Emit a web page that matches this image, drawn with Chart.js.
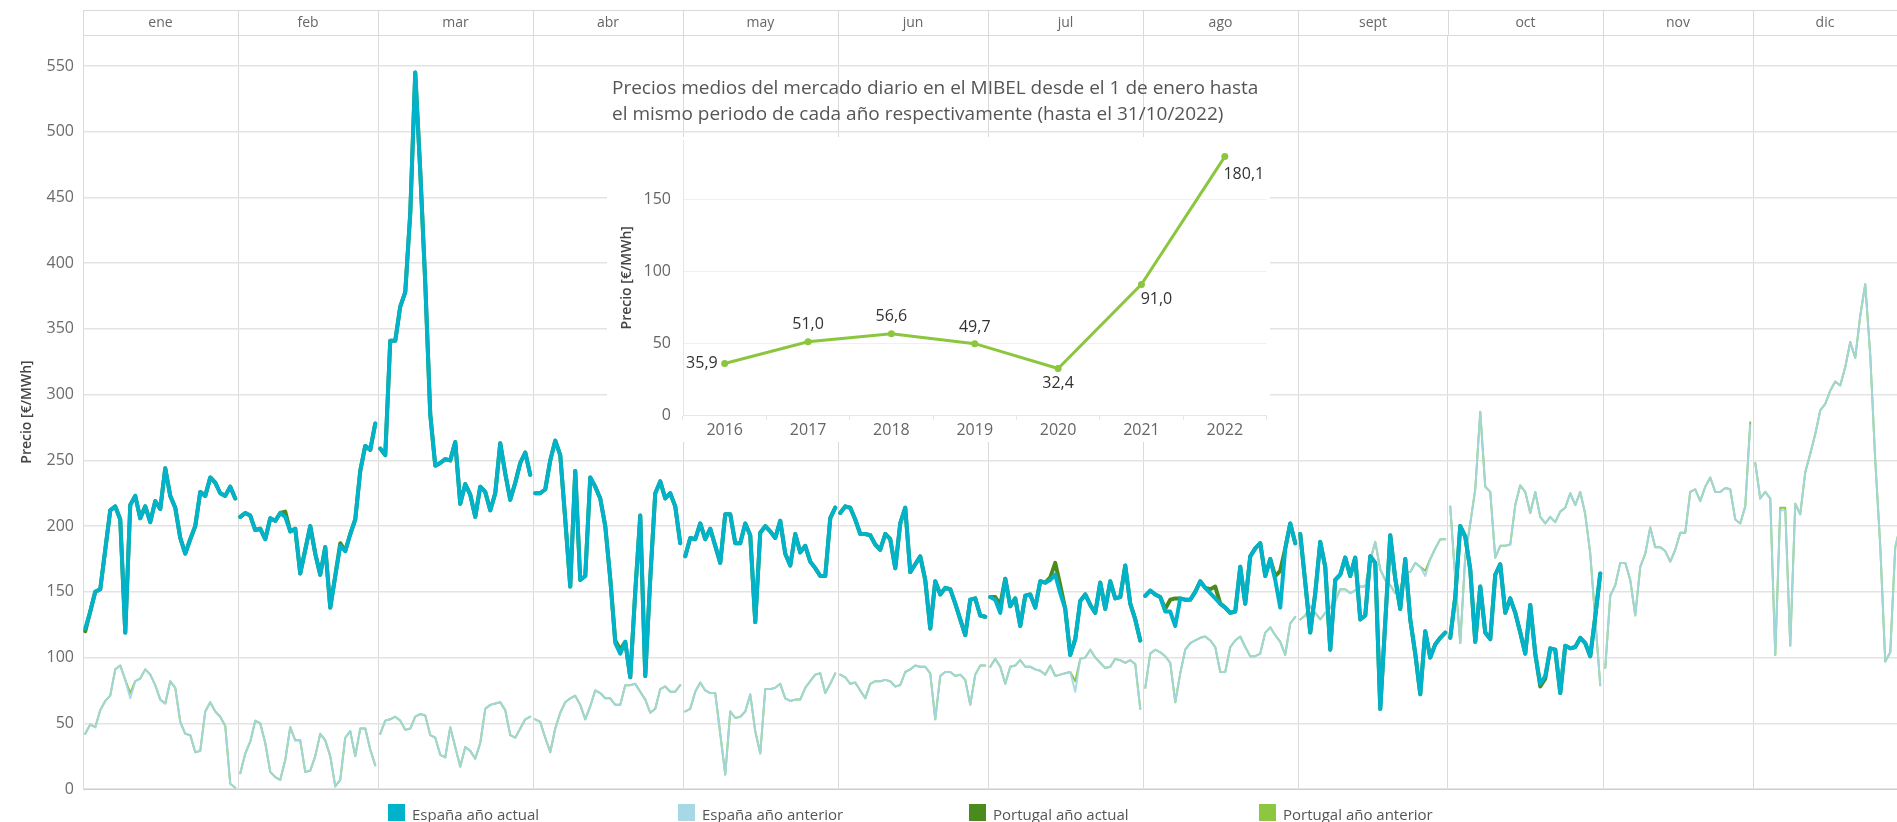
<!DOCTYPE html>
<html lang="es">
<head>
<meta charset="utf-8">
<title>Precios del mercado diario MIBEL</title>
<script src="https://cdn.jsdelivr.net/npm/chart.js@4.4.0/dist/chart.umd.min.js"></script>
<style>
  html, body { margin: 0; padding: 0; background: #fff; overflow: hidden; }
  body { width: 1897px; height: 822px; position: relative; font-family: 'Open Sans', sans-serif; }
  #main { position: absolute; left: 0; top: 0; width: 1897px; height: 822px; }
  #insetTitle { position: absolute; left: 612px; top: 74px; font-size: 19px; line-height: 26px; color: #555; white-space: nowrap; }
  #inset { position: absolute; left: 607px; top: 137px; width: 663px; height: 305px; background: #fff; }
  #legend { position: absolute; left: 0; top: 804px; width: 1897px; height: 18px; }
  .item { position: absolute; top: 0; font-size: 15px; line-height: 21px; color: #555; white-space: nowrap; }
  .sw { position: absolute; left: 0; top: 0; width: 17px; height: 17px; }
  .txt { margin-left: 24px; }
</style>
</head>
<body>
<div id="main"><canvas id="mainChart"></canvas></div>
<div id="insetTitle">Precios medios del mercado diario en el MIBEL desde el 1 de enero hasta<br>el mismo periodo de cada año respectivamente (hasta el 31/10/2022)</div>
<div id="inset"><canvas id="insetChart"></canvas></div>
<div id="legend"></div>
<script>
const months = ['ene', 'feb', 'mar', 'abr', 'may', 'jun', 'jul', 'ago', 'sept', 'oct', 'nov', 'dic'];
const monthDays = [31, 28, 31, 30, 31, 30, 31, 31, 30, 31, 30, 31];
const yTicks = [0, 50, 100, 150, 200, 250, 300, 350, 400, 450, 500, 550];

// precio medio diario, 1 ene - 31 oct 2022
const espana2022 = [
  122,135,150,152,182,212,215,205,119,216,223,206,215,203,219,213,244,223,214,191,179,190,200,226,223,237,233,225,223,230,221,
  207,210,208,197,198,190,206,204,210,207,196,198,164,182,200,179,163,184,138,162,185,181,194,205,242,261,258,278,
  259,254,341,341,367,378,438,545,470,385,285,246,248,251,250,264,217,232,224,207,230,226,212,225,263,240,220,233,248,256,239,
  225,225,228,250,265,254,205,154,242,159,162,237,230,221,200,160,111,103,112,85,150,208,86,160,225,234,221,225,215,187,
  177,191,190,202,190,198,185,172,209,209,187,187,202,193,127,195,200,196,191,204,179,170,194,180,185,173,168,162,162,206,214,
  210,215,214,205,194,194,193,186,182,194,190,168,202,214,165,171,177,159,122,158,148,153,152,141,129,117,144,145,132,131,
  146,144,134,160,139,145,124,147,148,138,158,157,159,163,149,137,102,114,143,148,140,134,157,137,158,145,146,170,141,129,113,
  147,151,148,146,135,135,124,145,144,144,150,158,153,149,145,141,138,134,135,169,141,177,183,187,162,175,159,138,183,202,187,
  194,157,119,149,188,169,106,159,163,176,162,176,129,132,177,172,61,127,193,160,137,175,129,103,72,120,100,110,115,119,
  115,146,200,192,167,112,154,119,114,163,171,134,145,134,119,103,140,103,80,86,107,106,73,109,107,108,115,111,101,131,164
];
const portugal2022 = [
  120,135,150,152,182,212,215,205,119,216,223,206,215,203,219,213,244,223,214,191,179,190,200,226,223,237,233,225,223,230,221,
  207,210,208,197,198,190,206,204,210,211,196,198,164,182,200,179,163,184,138,162,187,181,194,205,242,261,258,278,
  259,254,341,341,367,378,438,545,470,385,285,246,248,251,250,264,217,232,224,207,230,226,212,225,263,240,220,233,248,256,239,
  225,225,228,250,265,254,205,154,242,159,162,237,230,221,200,160,113,106,112,85,150,208,86,160,225,234,221,225,215,187,
  177,191,190,202,190,198,185,172,209,209,187,187,202,193,127,195,200,196,191,204,179,170,194,180,185,173,168,162,162,206,214,
  210,215,214,205,194,194,193,186,182,194,190,168,202,214,165,171,177,159,122,158,148,153,152,141,129,117,144,145,132,131,
  146,146,140,160,139,145,124,147,148,138,158,157,161,172,155,137,102,114,143,148,140,134,157,137,158,145,146,170,141,129,113,
  147,151,148,146,137,144,145,145,144,144,150,158,153,152,154,141,138,134,135,169,141,177,183,187,162,175,162,166,183,202,187,
  194,157,119,149,188,169,106,159,163,176,162,176,129,132,177,172,61,127,193,160,137,175,129,103,72,120,100,110,115,119,
  115,146,200,192,167,112,154,119,114,163,171,134,145,134,119,103,140,103,78,84,107,106,73,109,107,108,115,111,101,131,164
];

// precio medio diario, año 2021 completo
const espana2021 = [
  42,49,47,60,67,71,91,94,83,69,82,84,91,87,79,68,65,82,77,51,42,41,28,29,59,66,59,55,48,4,1,
  12,27,36,52,50,35,13,9,7,22,47,37,37,13,14,25,42,37,25,2,7,39,44,25,46,46,30,18,
  42,52,53,55,52,45,46,55,57,56,41,39,26,24,47,32,17,32,29,23,35,61,64,65,66,60,41,39,46,53,55,
  53,51,39,28,46,58,66,69,71,64,53,63,75,73,69,69,64,64,79,79,80,74,68,58,61,76,78,74,74,79,
  59,61,74,81,75,73,73,42,11,59,54,55,59,72,44,27,76,76,77,80,69,67,68,68,77,82,87,88,73,80,88,
  87,85,80,81,75,69,80,82,82,83,82,78,79,89,91,94,93,93,88,53,86,89,89,86,87,83,64,87,94,94,
  93,99,93,80,93,94,98,93,93,91,90,87,94,86,87,88,89,74,99,100,106,100,96,92,93,99,98,96,98,95,61,
  77,103,106,104,101,96,66,88,106,111,113,115,116,113,108,89,89,108,113,116,108,101,101,103,119,123,117,112,102,126,131,
  129,132,139,134,129,134,138,143,152,152,149,151,154,154,174,188,167,159,155,149,152,165,165,172,169,162,175,183,190,190,
  215,160,111,177,202,228,287,230,226,176,185,185,186,216,231,226,210,226,207,202,207,203,211,214,225,216,226,209,179,129,79,
  92,147,155,172,172,159,132,169,179,199,184,184,181,173,182,195,195,226,228,219,230,237,226,226,229,228,205,202,215,277,
  248,221,226,221,102,212,212,109,217,209,241,255,270,288,293,303,310,307,321,340,328,360,384,330,250,185,97,104,184,200,205
];
const portugal2021 = [
  42,49,47,60,67,71,91,94,83,73,82,84,91,87,79,68,65,82,77,51,42,41,28,29,59,66,59,55,48,4,1,
  12,27,36,52,50,35,13,9,7,22,47,37,37,13,14,25,42,37,25,2,7,39,44,25,46,46,30,18,
  42,52,53,55,52,45,46,55,57,56,41,39,26,24,47,32,17,32,29,23,35,61,64,65,66,60,41,39,46,53,55,
  53,51,39,28,46,58,66,69,71,64,53,63,75,73,69,69,64,64,79,79,80,74,68,58,61,76,78,74,74,79,
  59,61,74,81,75,73,73,42,11,59,54,55,59,72,44,27,76,76,77,80,69,67,68,68,77,82,87,88,73,80,88,
  87,85,80,81,75,69,80,82,82,83,82,78,79,89,91,94,93,93,88,53,86,89,89,86,87,83,64,87,94,94,
  93,99,93,80,93,94,98,93,93,91,90,87,94,86,87,88,89,82,99,100,106,100,96,92,93,99,98,96,98,95,61,
  77,103,106,104,101,96,66,88,106,111,113,115,116,113,108,89,89,108,113,116,108,101,101,103,119,123,117,112,102,126,131,
  129,132,139,134,129,134,138,143,152,152,149,151,154,154,174,188,167,159,155,149,152,165,165,172,169,166,175,183,190,190,
  215,160,111,177,202,228,287,230,226,176,185,185,186,216,231,226,210,226,207,202,207,203,211,214,225,216,226,209,179,129,79,
  92,147,155,172,172,159,132,169,179,199,184,184,181,173,182,195,195,226,228,219,230,237,226,226,229,228,205,202,215,279,
  248,221,226,221,102,214,214,109,217,209,241,255,270,288,293,303,310,307,321,340,328,360,384,330,250,185,97,104,184,200,205
];

// medias anuales 1 ene - 31 oct
const insetYears = ['2016', '2017', '2018', '2019', '2020', '2021', '2022'];
const insetValues = [35.9, 51.0, 56.6, 49.7, 32.4, 91.0, 180.1];
const insetTicks = [0, 50, 100, 150];

const colors = {
  esAct: '#00b2ca',
  esAnt: 'rgba(163, 215, 228, 0.93)',
  ptAct: '#4b8a1c',
  ptAnt: '#8dc63f'
};
const legendItems = [
  { text: 'España año actual', color: '#00b2ca', left: 388 },
  { text: 'España año anterior', color: '#a6d8e5', left: 678 },
  { text: 'Portugal año actual', color: '#4b8a1c', left: 969 },
  { text: 'Portugal año anterior', color: '#8dc63f', left: 1259 }
];

Chart.defaults.font.family = "'Open Sans', sans-serif";

const monthStart = [];
let acc = 0;
monthDays.forEach(n => { monthStart.push(acc); acc += n; });
const xMax = 362.8; // parte visible del año

function toPoints(values) {
  const pts = [];
  let day = 0;
  monthDays.forEach((n, m) => {
    for (let i = 0; i < n && day < values.length; i++, day++) {
      pts.push({ x: day + 0.45, y: values[day] });
    }
    if (day < values.length) pts.push({ x: monthStart[m] + n, y: null });
  });
  return pts;
}

const lineStyle = { pointRadius: 0, pointHoverRadius: 0, fill: false, tension: 0, spanGaps: false,
  borderJoinStyle: 'round', borderCapStyle: 'round' };

const noPadding = (s) => { s.paddingTop = 0; s.paddingBottom = 0; s.paddingLeft = 0; s.paddingRight = 0; };

const headerPlugin = {
  id: 'header',
  beforeDraw(chart) {
    const { ctx, chartArea } = chart;
    const x = chart.scales.x;
    ctx.save();
    ctx.strokeStyle = '#d9d9d9';
    ctx.lineWidth = 1;
    ctx.beginPath();
    ctx.moveTo(chartArea.left, 10.5);
    ctx.lineTo(chartArea.right, 10.5);
    ctx.moveTo(chartArea.left, chartArea.top + 0.5);
    ctx.lineTo(chartArea.right, chartArea.top + 0.5);
    monthStart.forEach(v => {
      const px = Math.round(x.getPixelForValue(v)) + 0.5;
      ctx.moveTo(px, 10);
      ctx.lineTo(px, chartArea.top);
    });
    ctx.stroke();
    ctx.restore();
  }
};

new Chart(document.getElementById('mainChart'), {
  type: 'line',
  data: {
    datasets: [
      { label: 'España año actual', data: toPoints(espana2022), borderColor: colors.esAct, borderWidth: 4, order: 0, ...lineStyle },
      { label: 'Portugal año actual', data: toPoints(portugal2022), borderColor: colors.ptAct, borderWidth: 4, order: 1, ...lineStyle },
      { label: 'España año anterior', data: toPoints(espana2021), borderColor: colors.esAnt, borderWidth: 2, order: 2, ...lineStyle },
      { label: 'Portugal año anterior', data: toPoints(portugal2021), borderColor: colors.ptAnt, borderWidth: 2, order: 3, ...lineStyle }
    ]
  },
  options: {
    animation: false,
    responsive: true,
    maintainAspectRatio: false,
    layout: { padding: 0 },
    plugins: { legend: { display: false }, tooltip: { enabled: false } },
    scales: {
      x: {
        type: 'linear', position: 'bottom', min: 0, max: xMax,
        afterBuildTicks: s => { s.ticks = monthStart.map(v => ({ value: v })); },
        ticks: { display: false },
        grid: { color: '#dadada', lineWidth: 1, drawTicks: false },
        border: { display: true, color: '#cfcfcf' },
        afterFit: s => { s.height = 33; noPadding(s); }
      },
      xh: {
        type: 'linear', position: 'top', min: 0, max: xMax,
        afterBuildTicks: s => {
          s.ticks = monthStart.map((v, i) => ({ value: (v + Math.min(v + monthDays[i], xMax)) / 2 }));
        },
        ticks: { callback: (v, i) => months[i], color: '#666', font: { size: 14 }, padding: 4, autoSkip: false, maxRotation: 0 },
        grid: { display: false, drawTicks: false },
        border: { display: false },
        afterFit: s => { s.height = 35; noPadding(s); }
      },
      y: {
        min: 0, max: 573.6,
        afterBuildTicks: s => { s.ticks = yTicks.map(v => ({ value: v })); },
        ticks: { color: '#6b6b6b', font: { size: 16 }, padding: 9 },
        grid: { color: '#e3e3e3', lineWidth: 1.5, drawTicks: false },
        border: { display: false },
        title: { display: true, text: 'Precio [€/MWh]', color: '#444', font: { size: 14, weight: '600' }, padding: { top: 19, bottom: 0 } },
        afterFit: s => { s.width = 83; noPadding(s); }
      }
    }
  },
  plugins: [headerPlugin]
});

// etiquetas de la gráfica pequeña: [dx, dy, alineación]
const labelOffsets = [[-7, 0, 'right'], [0, -17, 'center'], [0, -17, 'center'], [0, -16, 'center'],
  [0, 15, 'center'], [15, 15, 'center'], [19, 18, 'center']];

const insetLabels = {
  id: 'insetLabels',
  afterDatasetsDraw(chart) {
    const { ctx } = chart;
    const meta = chart.getDatasetMeta(0);
    ctx.save();
    ctx.font = "16px 'Open Sans', sans-serif";
    ctx.fillStyle = '#333';
    ctx.textBaseline = 'middle';
    meta.data.forEach((pt, i) => {
      const [dx, dy, align] = labelOffsets[i];
      ctx.textAlign = align;
      ctx.fillText(insetValues[i].toFixed(1).replace('.', ','), pt.x + dx, pt.y + dy);
    });
    ctx.restore();
  }
};

new Chart(document.getElementById('insetChart'), {
  type: 'line',
  data: {
    labels: insetYears,
    datasets: [{
      data: insetValues, borderColor: '#8cc63f', backgroundColor: '#8cc63f', borderWidth: 3,
      pointRadius: 3.5, pointHoverRadius: 3.5, pointBorderWidth: 0, tension: 0
    }]
  },
  options: {
    animation: false,
    responsive: true,
    maintainAspectRatio: false,
    layout: { padding: 0 },
    plugins: { legend: { display: false }, tooltip: { enabled: false } },
    scales: {
      x: {
        offset: true,
        grid: { display: true, drawOnChartArea: false, offset: true, tickLength: 5, color: '#e6e6e6' },
        border: { color: '#e6e6e6' },
        ticks: { color: '#666', font: { size: 16 }, padding: 1, maxRotation: 0 },
        afterFit: s => { s.height = 27; noPadding(s); }
      },
      y: {
        min: 0, max: 191.3,
        afterBuildTicks: s => { s.ticks = insetTicks.map(v => ({ value: v })); },
        ticks: { color: '#666', font: { size: 16 }, padding: 12 },
        grid: { color: '#f0f0f0', drawTicks: false },
        border: { color: '#e6e6e6' },
        title: { display: true, text: 'Precio [€/MWh]', color: '#444', font: { size: 14, weight: '600' }, padding: { top: 12, bottom: 0 } },
        afterFit: s => { s.width = 76; noPadding(s); }
      }
    }
  },
  plugins: [insetLabels]
});

const legend = document.getElementById('legend');
legendItems.forEach(it => {
  const el = document.createElement('div');
  el.className = 'item';
  el.style.left = it.left + 'px';
  el.innerHTML = '<span class="sw" style="background:' + it.color + '"></span><span class="txt">' + it.text + '</span>';
  legend.appendChild(el);
});
</script>
</body>
</html>
